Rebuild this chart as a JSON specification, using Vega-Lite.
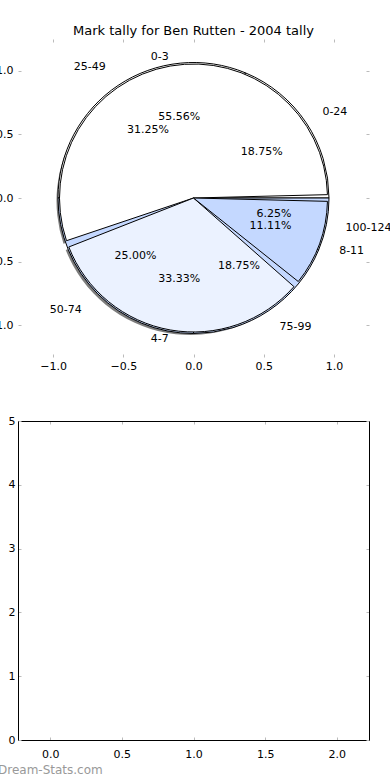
{
  "$schema": "https://vega.github.io/schema/vega-lite/v6.json",
  "autosize": {"type": "pad"},
  "padding": {"left": -14, "top": 24, "right": 0, "bottom": 0},
  "bounds": "flush",
  "spacing": 64,
  "config": {
    "view": {"stroke": null},
    "font": "DejaVu Sans",
    "axis": {
      "labelFont": "DejaVu Sans",
      "labelFontSize": 11,
      "labelColor": "#000000",
      "tickColor": "#bbbbbb",
      "tickSize": -3,
      "tickWidth": 1,
      "grid": false,
      "domainColor": "#000000",
      "domainWidth": 1
    }
  },
  "datasets": {
    "p1": [
      {"cat": "0-3", "frac": 0.5556},
      {"cat": "4-7", "frac": 0.3333},
      {"cat": "8-11", "frac": 0.1111}
    ],
    "p2": [
      {"cat": "0-24", "frac": 0.1875},
      {"cat": "25-49", "frac": 0.3125},
      {"cat": "50-74", "frac": 0.25},
      {"cat": "75-99", "frac": 0.1875},
      {"cat": "100-124", "frac": 0.0625}
    ]
  },
  "vconcat": [
    {
      "width": 351,
      "height": 318,
      "title": {"text": "Mark tally for Ben Rutten - 2004 tally", "fontSize": 13, "fontWeight": "normal", "color": "#000000", "frame": "group", "offset": 1},
      "layer": [
        {
          "data": {"name": "p2"},
          "mark": {"type": "point", "opacity": 0},
          "encoding": {
            "x": {"datum": 0, "type": "quantitative", "scale": {"domain": [-1.25, 1.25], "nice": false, "zero": false},
                  "axis": {"orient": "bottom", "title": null, "values": [-1, -0.5, 0, 0.5, 1], "format": ".1f", "domain": false, "labelPadding": 6}},
            "y": {"datum": 0, "type": "quantitative", "scale": {"domain": [-1.25, 1.25], "nice": false, "zero": false},
                  "axis": {"orient": "left", "title": null, "values": [-1, -0.5, 0, 0.5, 1], "format": ".1f", "domain": false, "labelPadding": 8}}
          }
        },
        {
          "data": {"name": "p2"},
          "mark": {"type": "point", "opacity": 0},
          "encoding": {
            "x": {"datum": 0, "type": "quantitative", "scale": {"domain": [-1.25, 1.25], "nice": false, "zero": false},
                  "axis": {"orient": "top", "title": null, "values": [-1, -0.5, 0, 0.5, 1], "labels": false, "domain": false}},
            "y": {"datum": 0, "type": "quantitative", "scale": {"domain": [-1.25, 1.25], "nice": false, "zero": false},
                  "axis": {"orient": "right", "title": null, "values": [-1, -0.5, 0, 0.5, 1], "labels": false, "domain": false}}
          }
        },
        {
          "data": {"name": "p1"},
          "transform": [{"window": [{"op": "row_number", "as": "i"}]}],
          "encoding": {
            "theta": {"field": "frac", "type": "quantitative", "stack": true, "scale": {"domain": [0, 1], "range": [1.5707963, -4.712389]}},
            "order": {"field": "i", "type": "quantitative"},
            "detail": {"field": "cat"}
          },
          "mark": {"type": "arc", "radius": 134, "padAngle": 0.05, "fill": "#444444", "opacity": 0.7, "xOffset": -3, "yOffset": 3}
        },
        {
          "data": {"name": "p2"},
          "transform": [{"window": [{"op": "row_number", "as": "i"}]}],
          "encoding": {
            "theta": {"field": "frac", "type": "quantitative", "stack": true, "scale": {"domain": [0, 1], "range": [1.5707963, -4.712389]}},
            "order": {"field": "i", "type": "quantitative"},
            "detail": {"field": "cat"},
            "color": {"field": "cat", "type": "nominal", "legend": null,
                      "scale": {"domain": ["0-3", "4-7", "8-11", "0-24", "25-49", "50-74", "75-99", "100-124"],
                                "range": ["#ffffff", "#ebf2ff", "#c4d8ff", "#ffffff", "#ffffff", "#c4d8ff", "#c4d8ff", "#c4d8ff"]}}
          },
          "mark": {"type": "arc", "radius": 135.5, "stroke": "#000000", "strokeWidth": 1}
        },
        {
          "data": {"name": "p1"},
          "transform": [{"window": [{"op": "row_number", "as": "i"}]}],
          "encoding": {
            "theta": {"field": "frac", "type": "quantitative", "stack": true, "scale": {"domain": [0, 1], "range": [1.5707963, -4.712389]}},
            "order": {"field": "i", "type": "quantitative"},
            "detail": {"field": "cat"},
            "color": {"field": "cat", "type": "nominal", "legend": null,
                      "scale": {"domain": ["0-3", "4-7", "8-11", "0-24", "25-49", "50-74", "75-99", "100-124"],
                                "range": ["#ffffff", "#ebf2ff", "#c4d8ff", "#ffffff", "#ffffff", "#c4d8ff", "#c4d8ff", "#c4d8ff"]}}
          },
          "mark": {"type": "arc", "radius": 134, "padAngle": 0.05, "stroke": "#000000", "strokeWidth": 1}
        },
        {
          "data": {"name": "p2"},
          "transform": [{"window": [{"op": "row_number", "as": "i"}]}],
          "encoding": {
            "theta": {"field": "frac", "type": "quantitative", "stack": true, "scale": {"domain": [0, 1], "range": [1.5707963, -4.712389]}},
            "order": {"field": "i", "type": "quantitative"},
            "detail": {"field": "cat"}
          },
          "layer": [
            {"mark": {"type": "text", "radius": 158, "align": "right", "baseline": "middle", "fontSize": 11, "color": "#000000"},
             "encoding": {"text": {"condition": {"test": "indexof(['25-49','50-74'], datum.cat) >= 0", "field": "cat"}, "value": ""}}},
            {"mark": {"type": "text", "radius": 155, "align": "left", "baseline": "middle", "fontSize": 11, "color": "#000000"},
             "encoding": {"text": {"condition": {"test": "indexof(['0-24','75-99','100-124'], datum.cat) >= 0", "field": "cat"}, "value": ""}}},
            {"mark": {"type": "text", "radius": 82, "align": "center", "baseline": "middle", "fontSize": 11, "color": "#000000"},
             "encoding": {"text": {"field": "frac", "type": "quantitative", "format": ".2%"}}}
          ]
        },
        {
          "data": {"name": "p1"},
          "transform": [{"window": [{"op": "row_number", "as": "i"}]}],
          "encoding": {
            "theta": {"field": "frac", "type": "quantitative", "stack": true, "scale": {"domain": [0, 1], "range": [1.5707963, -4.712389]}},
            "order": {"field": "i", "type": "quantitative"},
            "detail": {"field": "cat"}
          },
          "layer": [
            {"mark": {"type": "text", "radius": 143, "align": "right", "baseline": "middle", "fontSize": 11, "color": "#000000"},
             "encoding": {"text": {"condition": {"test": "indexof(['0-3','4-7'], datum.cat) >= 0", "field": "cat"}, "value": ""}}},
            {"mark": {"type": "text", "radius": 155, "align": "left", "baseline": "middle", "fontSize": 11, "color": "#000000"},
             "encoding": {"text": {"condition": {"test": "indexof(['8-11'], datum.cat) >= 0", "field": "cat"}, "value": ""}}},
            {"mark": {"type": "text", "radius": 82, "align": "center", "baseline": "middle", "fontSize": 11, "color": "#000000"},
             "encoding": {"text": {"field": "frac", "type": "quantitative", "format": ".2%"}}}
          ]
        }
      ],
      "resolve": {"axis": {"x": "independent", "y": "independent"}}
    },
    {
      "width": 351,
      "height": 319,
      "title": {"text": "Dream-Stats.com", "orient": "bottom", "anchor": "start", "frame": "group", "dx": -20, "offset": 6, "fontSize": 12, "fontWeight": "normal", "color": "#999999"},
      "layer": [
        {
          "data": {"name": "p2"},
          "mark": {"type": "point", "opacity": 0},
          "encoding": {
            "x": {"datum": 0, "type": "quantitative", "scale": {"domain": [-0.225, 2.225], "nice": false, "zero": false},
                  "axis": {"orient": "bottom", "title": null, "values": [0, 0.5, 1, 1.5, 2], "format": ".1f", "labelPadding": 11}},
            "y": {"datum": 0, "type": "quantitative", "scale": {"domain": [0, 5], "nice": false},
                  "axis": {"orient": "left", "title": null, "values": [0, 1, 2, 3, 4, 5], "format": "d", "labelPadding": 6}}
          }
        },
        {
          "data": {"name": "p2"},
          "mark": {"type": "point", "opacity": 0},
          "encoding": {
            "x": {"datum": 0, "type": "quantitative", "scale": {"domain": [-0.225, 2.225], "nice": false, "zero": false},
                  "axis": {"orient": "top", "title": null, "values": [0, 0.5, 1, 1.5, 2], "labels": false}},
            "y": {"datum": 0, "type": "quantitative", "scale": {"domain": [0, 5], "nice": false},
                  "axis": {"orient": "right", "title": null, "values": [0, 1, 2, 3, 4, 5], "labels": false}}
          }
        }
      ],
      "resolve": {"axis": {"x": "independent", "y": "independent"}}
    }
  ]
}
